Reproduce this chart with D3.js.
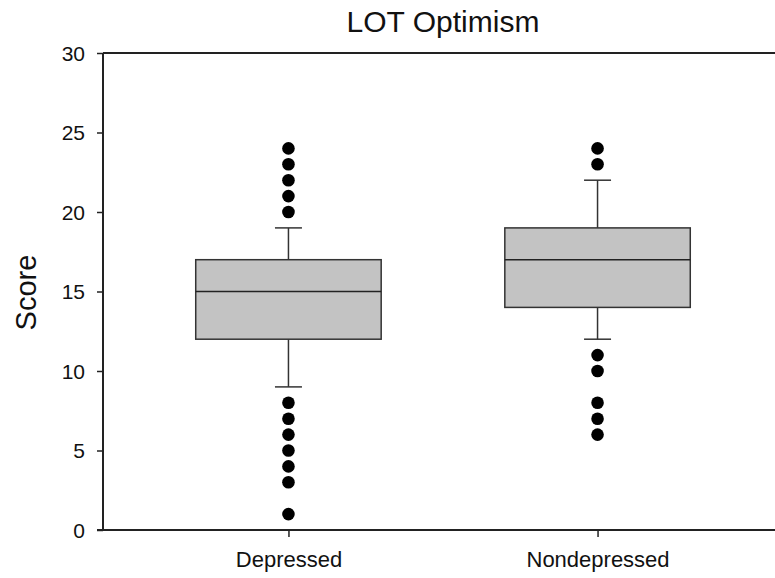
<!DOCTYPE html>
<html>
<head>
<meta charset="utf-8">
<script src="https://cdn.jsdelivr.net/npm/d3@7"></script>
<style>
  body { margin: 0; background: #fff; }
  text { font-family: Arial, "Liberation Sans", sans-serif; fill: #111; }
</style>
</head>
<body>
<svg width="775" height="578"></svg>
<script>
const groups = ['Depressed', 'Nondepressed'];
const q1 = [12, 14];
const medians = [15, 17];
const q3 = [17, 19];
const whiskerLow = [9, 12];
const whiskerHigh = [19, 22];
const outliers = [
  [24, 23, 22, 21, 20, 8, 7, 6, 5, 4, 3, 1],
  [24, 23, 11, 10, 8, 7, 6]
];
const yTicks = [0, 5, 10, 15, 20, 25, 30];

const svg = d3.select('svg');
const plotLeft = 103, plotTop = 53, plotBottom = 530;

// categories sit at fixed points, the frame runs off the right edge
const x = d3.scalePoint().domain(groups).range([plotLeft, 783]).padding(0.6);
const y = d3.scaleLinear().domain([0, 30]).range([plotBottom, plotTop]);
const boxW = x.step() * 0.6;
const capW = 27;

// frame: top line and bottom line across, left line down
svg.append('line')
  .attr('x1', plotLeft).attr('x2', 775).attr('y1', plotTop).attr('y2', plotTop)
  .style('stroke', '#222').style('stroke-width', 2);

const yAxis = svg.append('g')
  .attr('transform', `translate(${plotLeft},0)`)
  .call(d3.axisLeft(y).tickValues(yTicks).tickSize(6).tickPadding(12));
yAxis.selectAll('text').style('font-size', '21px').attr('dy', '0.35em');

const xAxis = svg.append('g')
  .attr('transform', `translate(0,${plotBottom})`)
  .call(d3.axisBottom(x).tickSize(7).tickPadding(14).tickSizeOuter(0));
xAxis.selectAll('text').style('font-size', '22px');

svg.selectAll('.domain').attr('d', null);
svg.append('line')
  .attr('x1', plotLeft).attr('x2', plotLeft).attr('y1', plotTop).attr('y2', plotBottom)
  .style('stroke', '#222').style('stroke-width', 2);
svg.append('line')
  .attr('x1', plotLeft - 6).attr('x2', 775).attr('y1', plotBottom).attr('y2', plotBottom)
  .style('stroke', '#222').style('stroke-width', 2);
svg.selectAll('.tick line').style('stroke', '#222').style('stroke-width', 1.5);

// boxes
groups.forEach((g, i) => {
  const cx = x(g);
  const box = svg.append('g');

  box.append('line')
    .attr('x1', cx).attr('x2', cx)
    .attr('y1', y(whiskerHigh[i])).attr('y2', y(q3[i]))
    .style('stroke', '#333').style('stroke-width', 1.5);
  box.append('line')
    .attr('x1', cx).attr('x2', cx)
    .attr('y1', y(q1[i])).attr('y2', y(whiskerLow[i]))
    .style('stroke', '#333').style('stroke-width', 1.5);
  [whiskerHigh[i], whiskerLow[i]].forEach(v => {
    box.append('line')
      .attr('x1', cx - capW / 2).attr('x2', cx + capW / 2)
      .attr('y1', y(v)).attr('y2', y(v))
      .style('stroke', '#333').style('stroke-width', 1.5);
  });

  box.append('rect')
    .attr('x', cx - boxW / 2)
    .attr('y', y(q3[i]))
    .attr('width', boxW)
    .attr('height', y(q1[i]) - y(q3[i]))
    .style('fill', '#c3c3c3')
    .style('stroke', '#333')
    .style('stroke-width', 1.5);
  box.append('line')
    .attr('x1', cx - boxW / 2).attr('x2', cx + boxW / 2)
    .attr('y1', y(medians[i])).attr('y2', y(medians[i]))
    .style('stroke', '#222').style('stroke-width', 1.5);

  box.selectAll('circle')
    .data(outliers[i])
    .enter().append('circle')
    .attr('cx', cx)
    .attr('cy', d => y(d))
    .attr('r', 6.3)
    .style('fill', '#000');
});

// title and y label
svg.append('text')
  .attr('x', 443).attr('y', 32)
  .attr('text-anchor', 'middle')
  .style('font-size', '30px')
  .text('LOT Optimism');

svg.append('text')
  .attr('transform', `translate(36,${(plotTop + plotBottom) / 2 + 1}) rotate(-90)`)
  .attr('text-anchor', 'middle')
  .style('font-size', '29px')
  .text('Score');
</script>
</body>
</html>
